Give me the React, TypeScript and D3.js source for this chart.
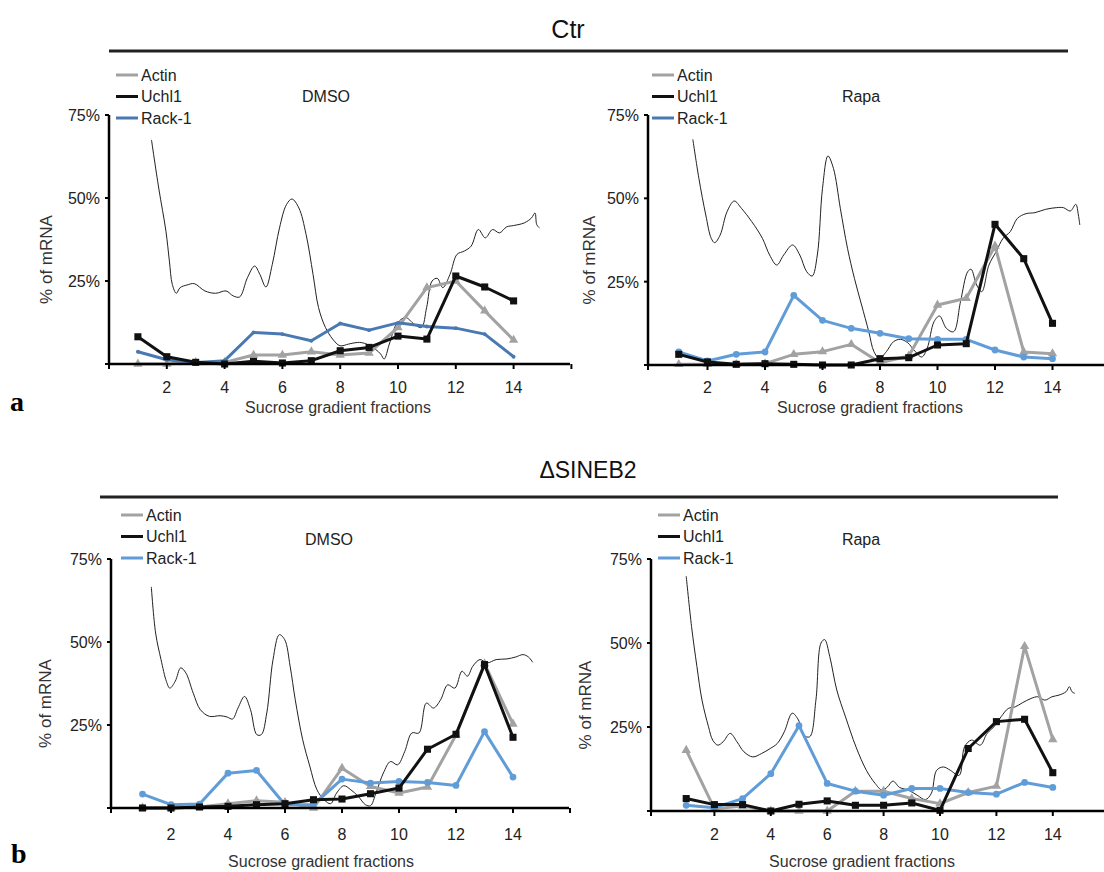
import React from 'react';
import * as d3 from 'd3';

// ---- data ----
const fractions = [1, 2, 3, 4, 5, 6, 7, 8, 9, 10, 11, 12, 13, 14];
const xTicks = [2, 4, 6, 8, 10, 12, 14];
const xTickMarks = [0, 2, 4, 6, 8, 10, 12, 14, 16];
const yTicks = [0, 25, 50, 75];
const yTickLabels = ['', '25%', '50%', '75%'];
const seriesNames = ['Actin', 'Uchl1', 'Rack-1'];
const groupTitles = ['Ctr', '\u0394SINEB2'];
const treatments = ['DMSO', 'Rapa'];

// Ctr / DMSO
const ctrDmsoActin = [0, 0, 0.5, 0.5, 2.7, 2.7, 3.7, 2.7, 3.3, 11, 23, 25, 16, 7.2];
const ctrDmsoUchl1 = [8.2, 2.2, 0.5, 0, 0.8, 0.3, 1, 4, 5, 8.4, 7.5, 26.5, 23.2, 19];
const ctrDmsoRack1 = [3.7, 1.3, 0.4, 1, 9.5, 9, 7, 12.2, 10.2, 12.4, 11.3, 10.8, 9, 2.2];
// Ctr / Rapa
const ctrRapaActin = [0.2, 0.2, 0.2, 0.4, 3.2, 4, 6.2, 0.7, 2.7, 18, 20, 35.7, 3.9, 3.4];
const ctrRapaUchl1 = [3.2, 0.9, 0.2, 0.4, 0.2, 0, 0, 1.9, 2.2, 6, 6.4, 42.2, 31.9, 12.5];
const ctrRapaRack1 = [3.9, 1.2, 3.2, 3.9, 20.9, 13.4, 11, 9.5, 7.9, 7.7, 7.7, 4.5, 2.4, 1.9];
// dSINEB2 / DMSO
const sinDmsoActin = [0, 0, 0.3, 1.3, 2.2, 1.7, 0, 12, 6.5, 4.5, 6.3, 22, 43.5, 25.3];
const sinDmsoUchl1 = [0, 0, 0.3, 0.5, 1, 1.3, 2.5, 2.7, 4.3, 6, 17.7, 22.2, 43.2, 21.3];
const sinDmsoRack1 = [4.2, 1, 1.2, 10.5, 11.3, 1, 1, 8.7, 7.5, 8, 7.7, 6.8, 23, 9.3];
// dSINEB2 / Rapa
const sinRapaActin = [18.1, 0.7, 1.5, 0, 0, 0, 5.9, 5.9, 3.7, 2.2, 5.5, 7.4, 49, 21.3];
const sinRapaUchl1 = [3.7, 1.9, 1.9, 0, 2, 3, 1.7, 1.7, 2.4, 0.2, 18.6, 26.6, 27.3, 11.4];
const sinRapaRack1 = [1.7, 1, 3.7, 11.1, 25.4, 8.2, 5.9, 4.7, 6.7, 6.7, 5.5, 5, 8.5, 7];

// polysome absorbance traces [fraction position, level on % scale]
const ctrDmsoProfile: [number, number][] = [
  [1.47, 67.5], [1.72, 53], [1.97, 40], [2.09, 31], [2.19, 24], [2.33, 21.3], [2.46, 23], [2.7, 23.8],
  [2.95, 24.2], [3.32, 22], [3.69, 21.3], [4.05, 22], [4.3, 20.5], [4.52, 20.2], [4.79, 26], [5.04, 29.5],
  [5.22, 27], [5.43, 23.2], [5.65, 30], [5.9, 41], [6.14, 48], [6.33, 49.7], [6.57, 47], [6.82, 39],
  [7.06, 27], [7.25, 17], [7.49, 11], [7.74, 7.5], [7.99, 5.5], [8.29, 6], [8.6, 6.5], [8.85, 6.2],
  [9.21, 4.5], [9.4, 3], [9.52, 1.5], [9.7, 6], [9.95, 12], [10.26, 14], [10.56, 12], [10.81, 11],
  [10.99, 17], [11.18, 25], [11.36, 25.8], [11.55, 23], [11.8, 27], [12.04, 33], [12.29, 34], [12.53, 35.5],
  [12.78, 40.5], [13.02, 38], [13.27, 40.5], [13.51, 39.5], [13.76, 41.3], [14.0, 41.7], [14.37, 42.5],
  [14.62, 44], [14.74, 45.5], [14.8, 42], [14.89, 41],
];
const ctrRapaProfile: [number, number][] = [
  [1.49, 67.7], [1.7, 56], [1.94, 45], [2.13, 38], [2.25, 36.7], [2.44, 39], [2.68, 46], [2.93, 49.2],
  [3.18, 47], [3.54, 43], [3.91, 38], [4.16, 33], [4.41, 30], [4.65, 33], [4.96, 36], [5.21, 33],
  [5.45, 28], [5.64, 26.7], [5.82, 33], [6.0, 53], [6.19, 62.7], [6.38, 59], [6.62, 47], [6.87, 35],
  [7.11, 26], [7.36, 18], [7.61, 10], [7.79, 4], [7.98, 2], [8.22, 4], [8.47, 7], [8.71, 7.7],
  [8.96, 6.7], [9.21, 4.2], [9.45, 2.4], [9.64, 5], [9.88, 13], [10.07, 14.7], [10.31, 11], [10.56, 10],
  [10.8, 19], [11.05, 28], [11.17, 28.7], [11.36, 24], [11.54, 22], [11.79, 30], [12.04, 34], [12.28, 38],
  [12.53, 40], [12.78, 44], [13.08, 45.4], [13.39, 45.7], [13.76, 46.7], [14.13, 47.2], [14.38, 47.2],
  [14.62, 46.2], [14.81, 48.2], [14.9, 45], [14.95, 42],
];
const sinDmsoProfile: [number, number][] = [
  [1.31, 66.6], [1.46, 52.7], [1.65, 44.7], [1.84, 38.1], [1.96, 36.1], [2.15, 38.2], [2.34, 42.2],
  [2.52, 40.7], [2.78, 34.6], [3.03, 29.6], [3.35, 27.6], [3.72, 27.8], [3.97, 27.4], [4.16, 26.8],
  [4.35, 30.1], [4.58, 33.6], [4.79, 29.6], [5.01, 22.1], [5.17, 22.1], [5.36, 28.6], [5.58, 44.7],
  [5.8, 52.2], [5.99, 50.7], [6.18, 42.7], [6.36, 32.6], [6.62, 20.6], [6.87, 12.6], [7.12, 5.5],
  [7.37, 2.5], [7.6, 1.3], [7.81, 4.5], [8.06, 6.7], [8.31, 5.5], [8.57, 3.5], [8.82, 1], [9.0, 0.7],
  [9.19, 4.5], [9.45, 10.5], [9.7, 14], [9.95, 13], [10.2, 17], [10.45, 22.6], [10.7, 22.6],
  [10.96, 31.6], [11.21, 30.1], [11.46, 32.6], [11.71, 37.1], [11.96, 36.1], [12.21, 41.2], [12.4, 39.7],
  [12.59, 42.7], [12.84, 44.7], [13.09, 43.7], [13.41, 44.7], [13.79, 44.9], [14.1, 45.5], [14.35, 46.2],
  [14.54, 45.5], [14.69, 43.9],
];
const sinRapaProfile: [number, number][] = [
  [1.0, 69.9], [1.19, 54.9], [1.38, 43], [1.56, 33], [1.79, 25.1], [1.94, 21.1], [2.12, 19.6], [2.31, 20.6],
  [2.56, 23.1], [2.8, 20.6], [3.05, 17.6], [3.36, 16.1], [3.67, 17.1], [3.98, 18.6], [4.23, 20.1],
  [4.48, 23.6], [4.76, 29.1], [4.98, 27.1], [5.16, 22.6], [5.38, 22.1], [5.6, 33], [5.78, 50], [5.91, 51],
  [6.09, 46], [6.34, 36], [6.65, 28], [7.02, 19.1], [7.39, 12.1], [7.7, 8.2], [7.95, 6.2], [8.14, 7.2],
  [8.33, 8.9], [8.57, 7], [8.88, 6.2], [9.19, 4.7], [9.48, 3.4], [9.69, 5.2], [9.88, 12.1], [10.12, 13.1],
  [10.37, 12.1], [10.68, 10.6], [10.87, 19.1], [11.12, 21.1], [11.43, 19.6], [11.67, 23.1], [11.92, 25.1],
  [12.17, 28.1], [12.42, 30.5], [12.67, 31], [12.92, 32.2], [13.23, 33.5], [13.47, 34], [13.72, 33],
  [13.97, 34], [14.22, 34.5], [14.47, 35.5], [14.59, 37], [14.68, 35.5], [14.78, 35],
];

// ---- styling ----
const GRAY = '#a2a2a2';
const BLACK = '#111111';
const BLUE_DARK = '#4a78b2';
const BLUE_LIGHT = '#609dd8';
const FONT = '"Liberation Sans", Arial, sans-serif';

type PanelDef = {
  ax: number; x0: number; unit: number; y0: number; y75: number; axEnd: number;
  legendX: number; legendY: number; treatX: number; treatY: number;
  ylabX: number; xlabX: number; tickY: number; xlabY: number;
  treatment: string;
  actin: number[]; uchl1: number[]; rack1: number[]; profile: [number, number][];
  rackColor: string; rackLegendColor: string; rackMarker: boolean;
};

const panels: PanelDef[] = [
  {
    ax: 109, x0: 109, unit: 28.9, y0: 364, y75: 115, axEnd: 570,
    legendX: 116, legendY: 75, treatX: 326, treatY: 102, ylabX: 46, xlabX: 338, tickY: 393, xlabY: 413,
    treatment: treatments[0], actin: ctrDmsoActin, uchl1: ctrDmsoUchl1, rack1: ctrDmsoRack1,
    profile: ctrDmsoProfile, rackColor: BLUE_DARK, rackLegendColor: BLUE_DARK, rackMarker: false,
  },
  {
    ax: 648, x0: 650, unit: 28.75, y0: 365, y75: 115, axEnd: 1104,
    legendX: 652, legendY: 75, treatX: 861, treatY: 102, ylabX: 589, xlabX: 870, tickY: 393, xlabY: 413,
    treatment: treatments[1], actin: ctrRapaActin, uchl1: ctrRapaUchl1, rack1: ctrRapaRack1,
    profile: ctrRapaProfile, rackColor: BLUE_LIGHT, rackLegendColor: BLUE_DARK, rackMarker: true,
  },
  {
    ax: 111, x0: 114, unit: 28.5, y0: 808, y75: 559, axEnd: 569,
    legendX: 121, legendY: 515, treatX: 329, treatY: 545, ylabX: 45, xlabX: 321, tickY: 840, xlabY: 867,
    treatment: treatments[0], actin: sinDmsoActin, uchl1: sinDmsoUchl1, rack1: sinDmsoRack1,
    profile: sinDmsoProfile, rackColor: BLUE_LIGHT, rackLegendColor: BLUE_LIGHT, rackMarker: true,
  },
  {
    ax: 651, x0: 658, unit: 28.2, y0: 811, y75: 559, axEnd: 1104,
    legendX: 658, legendY: 515, treatX: 861, treatY: 545, ylabX: 585, xlabX: 862, tickY: 840, xlabY: 867,
    treatment: treatments[1], actin: sinRapaActin, uchl1: sinRapaUchl1, rack1: sinRapaRack1,
    profile: sinRapaProfile, rackColor: BLUE_LIGHT, rackLegendColor: BLUE_LIGHT, rackMarker: true,
  },
];

const Panel = ({ p }: { p: PanelDef }) => {
  const x = d3.scaleLinear().domain([0, 16]).range([p.x0, p.x0 + 16 * p.unit]);
  const y = d3.scaleLinear().domain([0, 75]).range([p.y0, p.y75]);

  const seriesLine = d3.line<number>().x((_, i) => x(fractions[i])).y(d => y(d));
  const profileLine = d3.line<[number, number]>()
    .x(d => x(d[0])).y(d => y(d[1]))
    .curve(d3.curveCatmullRom.alpha(0.5));

  const tri = d3.symbol(d3.symbolTriangle, 38)()!;
  const sq = d3.symbol(d3.symbolSquare, 50)()!;
  const circ = d3.symbol(d3.symbolCircle, 36)()!;
  const smallCirc = d3.symbol(d3.symbolCircle, 12)()!;

  const series = [
    { vals: p.actin, color: GRAY, mark: tri },
    { vals: p.rack1, color: p.rackColor, mark: p.rackMarker ? circ : smallCirc },
    { vals: p.uchl1, color: BLACK, mark: sq },
  ];
  const legendColors = [GRAY, BLACK, p.rackLegendColor];
  const yLabY = (p.y0 + p.y75) / 2 + 20;

  return (
    <g>
      {/* profile trace */}
      <path d={profileLine(p.profile) || ''} fill="none" stroke="#222" strokeWidth={1} />

      {/* series */}
      {series.map((s, si) => (
        <g key={si}>
          <path d={seriesLine(s.vals) || ''} fill="none" stroke={s.color} strokeWidth={3} strokeLinejoin="round" />
          {s.vals.map((v, i) => (
            <path key={i} d={s.mark} transform={`translate(${x(fractions[i])},${y(v)})`} fill={s.color} />
          ))}
        </g>
      ))}

      {/* axes */}
      <line x1={p.ax} x2={p.axEnd} y1={p.y0} y2={p.y0} stroke="#000" strokeWidth={2.5} />
      <line x1={p.ax} x2={p.ax} y1={p.y0 + 1} y2={p.y75} stroke="#000" strokeWidth={2.5} />
      {xTickMarks.map(t => (
        <line key={t} x1={x(t) - (t === 0 ? p.x0 - p.ax : 0)} x2={x(t) - (t === 0 ? p.x0 - p.ax : 0)}
          y1={p.y0} y2={p.y0 + 5} stroke="#000" strokeWidth={2} />
      ))}
      {yTicks.map(t => (
        <line key={t} x1={p.ax - 4} x2={p.ax} y1={y(t)} y2={y(t)} stroke="#000" strokeWidth={2} />
      ))}
      {yTicks.map((t, i) => (
        <text key={t} x={p.ax - 9} y={y(t) + 6} textAnchor="end" fontSize={16} fill="#222" fontFamily={FONT}>
          {yTickLabels[i]}
        </text>
      ))}
      {xTicks.map(t => (
        <text key={t} x={x(t)} y={p.tickY} textAnchor="middle" fontSize={16} fill="#222" fontFamily={FONT}>{t}</text>
      ))}
      <text x={p.xlabX} y={p.xlabY} textAnchor="middle" fontSize={16} fill="#333" fontFamily={FONT}>
        Sucrose gradient fractions
      </text>
      <text transform={`translate(${p.ylabX + 6},${yLabY}) rotate(-90)`} textAnchor="middle" fontSize={17}
        fill="#333" fontFamily={FONT}>% of mRNA</text>

      {/* legend */}
      {seriesNames.map((n, i) => (
        <g key={n} transform={`translate(${p.legendX},${p.legendY + i * 21.5})`}>
          <line x1={0} x2={22} y1={0} y2={0} stroke={legendColors[i]} strokeWidth={3} />
          <text x={25} y={5.5} fontSize={16} fill="#222" fontFamily={FONT}>{n}</text>
        </g>
      ))}
      <text x={p.treatX} y={p.treatY} textAnchor="middle" fontSize={16} fill="#222" fontFamily={FONT}>
        {p.treatment}
      </text>
    </g>
  );
};

export default function App() {
  return (
    <svg width={1104} height={872} style={{ position: 'absolute', left: 0, top: 0, background: '#fff' }}>
      <rect width={1104} height={872} fill="#fff" />
      <text x={568} y={38} textAnchor="middle" fontSize={25} fill="#111" fontFamily={FONT}>{groupTitles[0]}</text>
      <line x1={109} x2={1068} y1={51} y2={51} stroke="#222" strokeWidth={3} />
      <text x={588} y={478} textAnchor="middle" fontSize={23} fill="#111" fontFamily={FONT}>{groupTitles[1]}</text>
      <line x1={100} x2={1058} y1={497} y2={497} stroke="#222" strokeWidth={3} />
      <text x={10} y={411} fontSize={28} fontWeight="bold" fontFamily='"Liberation Serif", "Times New Roman", serif'>a</text>
      <text x={11} y={863} fontSize={28} fontWeight="bold" fontFamily='"Liberation Serif", "Times New Roman", serif'>b</text>
      {panels.map((p, i) => <Panel key={i} p={p} />)}
    </svg>
  );
}
